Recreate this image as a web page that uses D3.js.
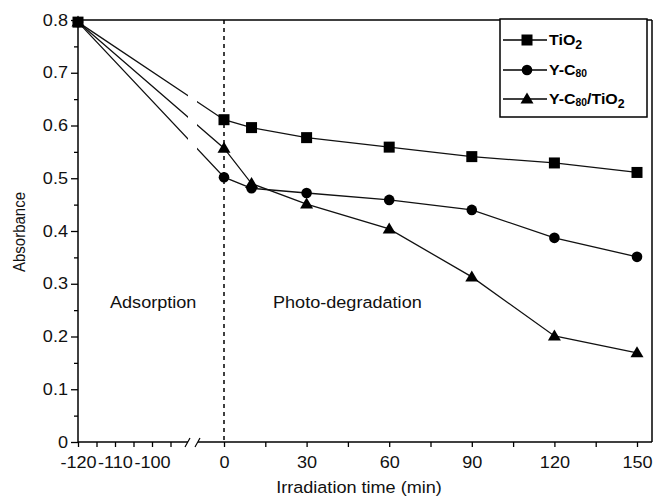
<!DOCTYPE html>
<html>
<head>
<meta charset="utf-8">
<script src="https://cdn.jsdelivr.net/npm/d3@7"></script>
<style>
  html, body { margin: 0; padding: 0; background: #fff; }
  svg { display: block; font-family: "Liberation Sans", Arial, Helvetica, sans-serif; }
</style>
</head>
<body>
<svg id="chart" width="653" height="500"></svg>
<script>
/* Absorbance vs irradiation time: adsorption (dark) then photo-degradation. */
(() => {
  "use strict";

  // ---- data ----
  const SERIES = ["TiO2", "Y-C80", "Y-C80/TiO2"];
  const TIMES = [-120, 0, 10, 30, 60, 90, 120, 150];
  const TIO2 = [0.796, 0.611, 0.596, 0.577, 0.559, 0.541, 0.529, 0.511];
  const YC80 = [0.796, 0.502, 0.481, 0.472, 0.459, 0.440, 0.387, 0.351];
  const YC80_TIO2 = [0.796, 0.557, 0.490, 0.451, 0.404, 0.313, 0.201, 0.169];
  const ADS_TICKS = [-120, -110, -100];
  const ADS_MINOR = [-115, -105, -95];
  const DEG_TICKS = [0, 30, 60, 90, 120, 150];
  const DEG_MINOR = [15, 45, 75, 105, 135];
  const Y_TICKS = [0, 0.1, 0.2, 0.3, 0.4, 0.5, 0.6, 0.7, 0.8];
  const Y_MINOR = [0.05, 0.15, 0.25, 0.35, 0.45, 0.55, 0.65, 0.75];

  const SX = 1.11;       // glyphs in the figure are a little wider than Arial
  const FS = 16.3;

  const svg = d3.select("#chart");
  const L = 78, R = 652, T = 20, B = 442;
  const BREAK = [188, 197];

  const x = d3.scaleLinear().domain([0, 150]).range([224, 637]);
  const xAds = d3.scaleLinear().domain([-120, -100]).range([L, 152]);
  const xPos = (t) => (t < 0 ? xAds(t) : x(t));
  const y = d3.scaleLinear().domain([0, 0.8]).range([B, T]);

  const data = [TIO2, YC80, YC80_TIO2].map((vals, i) => ({
    name: SERIES[i],
    shape: i,
    pts: TIMES.map((t, j) => ({ t, v: vals[j] })),
  }));

  // clip out the axis break gap on the adsorption segments
  const defs = svg.append("defs");
  const clip = defs.append("clipPath").attr("id", "gap");
  clip.append("rect").attr("x", 0).attr("y", 0).attr("width", BREAK[0]).attr("height", 500);
  clip.append("rect").attr("x", BREAK[1]).attr("y", 0).attr("width", 653 - BREAK[1]).attr("height", 500);

  // ---- axes ----
  function styleAxis(g) {
    g.select(".domain").remove();
    g.selectAll("line").attr("stroke", "#000").attr("stroke-width", 1.3);
    g.selectAll("text").attr("fill", "#111").attr("font-size", FS).attr("font-family", null);
  }

  const plain = (d) => String(d); // hyphen-minus, as in the figure
  const bottom = svg.append("g").attr("transform", `translate(0,${B})`);
  [
    d3.axisBottom(xAds).tickValues(ADS_TICKS).tickFormat(plain),
    d3.axisBottom(xAds).tickValues(ADS_MINOR).tickFormat(""),
    d3.axisBottom(x).tickValues(DEG_TICKS).tickFormat(plain),
    d3.axisBottom(x).tickValues(DEG_MINOR).tickFormat(""),
  ].forEach((ax) => {
    const g = bottom.append("g").call(ax.tickSize(5).tickPadding(9));
    styleAxis(g);
    g.selectAll("text").attr("transform", `scale(${SX},1)`).attr("dy", "0.71em");
  });

  const left = svg.append("g").attr("transform", `translate(${L},0)`);
  const gy = left.append("g").call(
    d3.axisLeft(y).tickValues(Y_TICKS).tickSize(7).tickPadding(3)
      .tickFormat((d) => (d === 0 ? "0" : d3.format(".1f")(d)))
  );
  styleAxis(gy);
  gy.selectAll("text").attr("x", -10 / SX).attr("transform", `scale(${SX},1)`);
  const gym = left.append("g").call(d3.axisLeft(y).tickValues(Y_MINOR).tickSize(4).tickFormat(""));
  styleAxis(gym);

  // frame + broken bottom axis
  const frame = svg.append("g").attr("stroke", "#000").attr("stroke-width", 1.5).attr("fill", "none");
  frame.append("line").attr("x1", L).attr("x2", L).attr("y1", T).attr("y2", B);
  frame.append("line").attr("x1", L).attr("x2", R).attr("y1", T).attr("y2", T);
  frame.append("line").attr("x1", R).attr("x2", R).attr("y1", T).attr("y2", B);
  frame.append("line").attr("x1", L).attr("x2", BREAK[0]).attr("y1", B).attr("y2", B);
  frame.append("line").attr("x1", BREAK[1] + 1).attr("x2", R).attr("y1", B).attr("y2", B);
  [185, 195].forEach((sx) =>
    frame.append("line").attr("x1", sx).attr("y1", B + 5).attr("x2", sx + 5).attr("y2", B - 4).attr("stroke-width", 1.2)
  );

  // dashed divider at t = 0
  svg.append("line")
    .attr("x1", x(0)).attr("x2", x(0)).attr("y1", T).attr("y2", B)
    .attr("stroke", "#000").attr("stroke-width", 1.5).attr("stroke-dasharray", "4,4");

  // ---- series ----
  const line = d3.line().x((d) => xPos(d.t)).y((d) => y(d.v));
  svg.append("g").attr("clip-path", "url(#gap)")
    .selectAll("path").data(data).join("path")
    .attr("d", (d) => line(d.pts))
    .attr("fill", "none").attr("stroke", "#111").attr("stroke-width", 1.3);

  function marker(g, shape) {
    if (shape === 0) g.append("rect").attr("x", -5.5).attr("y", -5.5).attr("width", 11).attr("height", 11);
    else if (shape === 1) g.append("circle").attr("r", 5.3);
    else g.append("path").attr("d", "M0,-6.5L6.5,4.5L-6.5,4.5Z");
  }

  data.forEach((s) => {
    svg.append("g").selectAll("g").data(s.pts).join("g")
      .attr("transform", (d) => `translate(${xPos(d.t)},${y(d.v)})`)
      .attr("fill", "#000")
      .each(function () { marker(d3.select(this), s.shape); });
  });

  // ---- annotations ----
  function htext(txt, tx, ty, anchor) {
    return svg.append("text")
      .attr("transform", `translate(${tx},${ty}) scale(${SX},1)`)
      .attr("text-anchor", anchor || "start")
      .attr("font-size", FS).attr("fill", "#111").text(txt);
  }
  htext("Adsorption", 110, 308);
  htext("Photo-degradation", 273, 308);
  htext("Irradiation time (min)", 359, 493, "middle");
  svg.append("text")
    .attr("transform", `translate(25,232) rotate(-90) scale(1,${SX})`)
    .attr("text-anchor", "middle").attr("font-size", 15).attr("fill", "#111")
    .text("Absorbance");

  // ---- legend ----
  const leg = svg.append("g");
  leg.append("rect").attr("x", 500).attr("y", 19).attr("width", 147).attr("height", 98)
    .attr("fill", "#fff").attr("stroke", "#000").attr("stroke-width", 1.5);
  const labels = [
    [["TiO", 0], ["2", 1]],
    [["Y-C", 0], ["80", 2]],
    [["Y-C", 0], ["80", 2], ["/TiO", 0], ["2", 1]],
  ];
  [40, 70, 99].forEach((ly, i) => {
    leg.append("line").attr("x1", 503).attr("x2", 547).attr("y1", ly).attr("y2", ly)
      .attr("stroke", "#000").attr("stroke-width", 1.3);
    const m = leg.append("g").attr("transform", `translate(527,${ly})`).attr("fill", "#000");
    marker(m, i);
    const t = leg.append("text")
      .attr("transform", `translate(549,${ly + 5}) scale(1.03,1)`)
      .attr("font-size", 15.5).attr("font-weight", "bold").attr("fill", "#000");
    let shift = 0;
    labels[i].forEach(([s, kind]) => {
      const dy = kind === 0 ? -shift : kind === 1 ? 4 - shift : 2 - shift;
      shift += dy;
      t.append("tspan").attr("dy", dy).attr("font-size", kind === 0 ? 15.5 : kind === 1 ? 12 : 10).text(s);
    });
  });
})();
</script>
</body>
</html>
